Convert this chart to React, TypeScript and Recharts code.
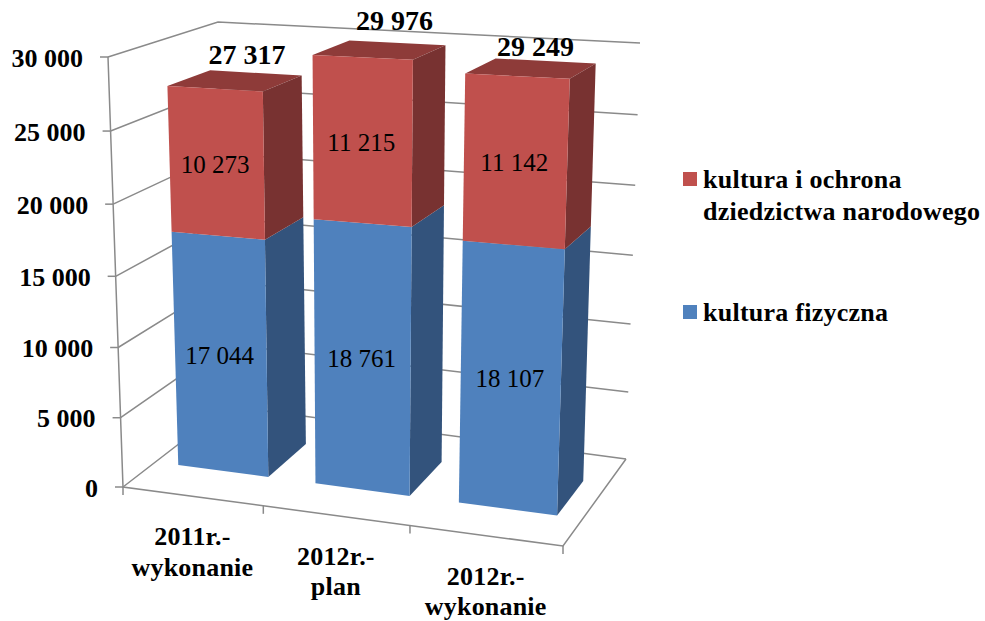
import { BarChart, Bar, XAxis, YAxis, CartesianGrid, LabelList, Legend } from "recharts";

const categories = ["2011r.- wykonanie", "2012r.- plan", "2012r.- wykonanie"];
const kulturaFizyczna = [17044, 18761, 18107];
const kulturaDziedzictwo = [10273, 11215, 11142];
const totals = [27317, 29976, 29249];
const yTicks = [0, 5000, 10000, 15000, 20000, 25000, 30000];

const data = categories.map((category, i) => ({
  category,
  fizyczna: kulturaFizyczna[i],
  dziedzictwo: kulturaDziedzictwo[i],
  total: totals[i],
}));

const FONT = "'Liberation Serif', serif";
const GRID = "#8a8a8a";
const RED = { front: "#C0504D", side: "#783231", top: "#8E3B39" };
const BLUE = { front: "#4F81BD", side: "#33537C", top: "#3C618E" };

// plot rectangle of the flat chart, it gets mapped on the 3D box
const PL = 123;
const PT = 57;
const PW = 440;
const PH = 430;

// box corners: front/back, top/bottom, left/right
const FTL = [108, 57];
const FTR = [578, 80];
const FBL = [123, 487];
const FBR = [563, 546];
const BTL = [218, 22];
const BTR = [640, 43];
const BBL = [228, 406];
const BBR = [626, 459];

const mix = (a: number[], b: number[], t: number) => [a[0] + (b[0] - a[0]) * t, a[1] + (b[1] - a[1]) * t];

// u along categories, v along values, w into the depth (all 0..1)
const project = (u: number, v: number, w: number) => {
  const uu = u - 0.065 * u * (1 - u);
  const vv = v - 0.04 * v * (1 - v);
  const bottom = mix(mix(FBL, FBR, uu), mix(BBL, BBR, uu), w);
  const top = mix(mix(FTL, FTR, uu), mix(BTL, BTR, uu), w);
  return mix(bottom, top, vv);
};

const toU = (x: number) => (x - PL) / PW;
const toV = (y: number) => (PT + PH - y) / PH;
const pts = (list: number[][]) => list.map((p) => p.join(",")).join(" ");

const W0 = 0.31;
const W1 = 0.71;

const formatValue = (v: number) => String(v).replace(/\B(?=(\d{3})+$)/g, " ");

const barShape = (colors: typeof RED, capped: boolean) => (props: any) => {
  const { x, y, width, height } = props;
  const u0 = toU(x);
  const u1 = toU(x + width);
  const v0 = toV(y + height);
  const v1 = toV(y);
  return (
    <g>
      {capped && (
        <polygon
          fill={colors.top}
          points={pts([project(u0, v1, W0), project(u1, v1, W0), project(u1, v1, W1), project(u0, v1, W1)])}
        />
      )}
      <polygon
        fill={colors.side}
        points={pts([project(u1, v0, W0), project(u1, v1, W0), project(u1, v1, W1), project(u1, v0, W1)])}
      />
      <polygon
        fill={colors.front}
        points={pts([project(u0, v0, W0), project(u1, v0, W0), project(u1, v1, W0), project(u0, v1, W0)])}
      />
    </g>
  );
};

const GridLine = (props: any) => {
  const v = toV(props.y1);
  return (
    <polyline
      key={props.index}
      fill="none"
      stroke={GRID}
      strokeWidth={1.5}
      points={pts([project(0, v, 0), project(0, v, 1), project(1, v, 1)])}
    />
  );
};

// left edge, front and right floor edges and the small category ticks
const Frame = () => (
  <g fill="none" stroke={GRID} strokeWidth={1.5}>
    <polyline points={pts([project(0, 1, 0), project(0, 0, 0), project(1, 0, 0), project(1, 0, 1)])} />
    {[0, 1, 2, 3].map((i) => {
      const p = project(i / categories.length, 0, 0);
      return <line key={i} x1={p[0]} y1={p[1]} x2={p[0]} y2={p[1] + 8} />;
    })}
  </g>
);

const YTick = (props: any) => {
  const p = project(0, toV(props.y), 0);
  return (
    <g>
      <line x1={p[0] - 8} y1={p[1]} x2={p[0]} y2={p[1]} stroke={GRID} strokeWidth={1.5} />
      <text
        x={p[0] - 25}
        y={p[1] + 1}
        textAnchor="end"
        dominantBaseline="central"
        fontFamily={FONT}
        fontWeight="bold"
        fontSize={26}
        fill="#000"
      >
        {formatValue(props.payload.value)}
      </text>
    </g>
  );
};

const XTick = (props: any) => {
  const p = project(toU(props.x), 0, 0);
  return (
    <text textAnchor="middle" fontFamily={FONT} fontWeight="bold" fontSize={26} letterSpacing={0.2} fill="#000">
      {String(props.payload.value)
        .split(" ")
        .map((line, i) => (
          <tspan key={i} x={p[0]} y={p[1] + 49 + i * 30.5}>
            {line}
          </tspan>
        ))}
    </text>
  );
};

const SegmentLabel = (props: any) => {
  const { x, y, width, height, value } = props;
  const a = project(toU(x), toV(y + height), W0);
  const b = project(toU(x + width), toV(y), W0);
  return (
    <text
      x={(a[0] + b[0]) / 2 - 2}
      y={(a[1] + b[1]) / 2 + 3}
      textAnchor="middle"
      dominantBaseline="central"
      fontFamily={FONT}
      fontSize={25}
      fill="#000"
    >
      {formatValue(value)}
    </text>
  );
};

const totalNudge = [
  [-9, -18],
  [-3, -22],
  [-10, -15],
];

const TotalLabel = (props: any) => {
  const { x, y, width, index } = props;
  const v = toV(y);
  const a = project(toU(x), v, W1);
  const b = project(toU(x + width), v, W1);
  return (
    <text
      x={(a[0] + b[0]) / 2 + totalNudge[index][0]}
      y={(a[1] + b[1]) / 2 + totalNudge[index][1]}
      textAnchor="middle"
      dominantBaseline="central"
      fontFamily={FONT}
      fontWeight="bold"
      fontSize={28}
      fill="#000"
    >
      {formatValue(totals[index])}
    </text>
  );
};

const LegendBox = (props: any) => {
  const items = [...(props.payload || [])].reverse();
  return (
    <div
      style={{
        fontFamily: FONT,
        fontWeight: "bold",
        fontSize: 26,
        lineHeight: "32px",
        letterSpacing: 0.25,
        color: "#000",
      }}
    >
      {items.map((item: any, i: number) => (
        <div key={item.value} style={{ position: "relative", paddingLeft: 20, marginBottom: i === 0 ? 69 : 0 }}>
          <span
            style={{ position: "absolute", left: 0, top: 8, width: 14, height: 14, background: item.color }}
          />
          {item.value}
        </div>
      ))}
    </div>
  );
};

export default function App() {
  return (
    <div style={{ position: "absolute", left: 0, top: 0, width: 985, height: 621, background: "#fff" }}>
      <BarChart
        width={985}
        height={621}
        data={data}
        barCategoryGap="17%"
        margin={{ top: PT, right: 985 - PL - PW, bottom: 0, left: PL - 60 }}
      >
        <CartesianGrid horizontal={GridLine} vertical={false} />
        <Frame />
        <XAxis
          dataKey="category"
          height={621 - PT - PH}
          axisLine={false}
          tickLine={false}
          interval={0}
          tick={XTick}
        />
        <YAxis
          width={60}
          domain={[0, 30000]}
          ticks={yTicks}
          axisLine={false}
          tickLine={false}
          tick={YTick}
        />
        <Legend
          layout="vertical"
          align="center"
          verticalAlign="middle"
          content={LegendBox}
          wrapperStyle={{ left: 683, top: 164, width: 300, height: 200 }}
        />
        <Bar
          dataKey="fizyczna"
          name="kultura fizyczna"
          stackId="a"
          fill={BLUE.front}
          isAnimationActive={false}
          shape={barShape(BLUE, false)}
        >
          <LabelList dataKey="fizyczna" content={SegmentLabel} />
        </Bar>
        <Bar
          dataKey="dziedzictwo"
          name="kultura i ochrona dziedzictwa narodowego"
          stackId="a"
          fill={RED.front}
          isAnimationActive={false}
          shape={barShape(RED, true)}
        >
          <LabelList dataKey="dziedzictwo" content={SegmentLabel} />
          <LabelList dataKey="total" content={TotalLabel} />
        </Bar>
      </BarChart>
    </div>
  );
}
